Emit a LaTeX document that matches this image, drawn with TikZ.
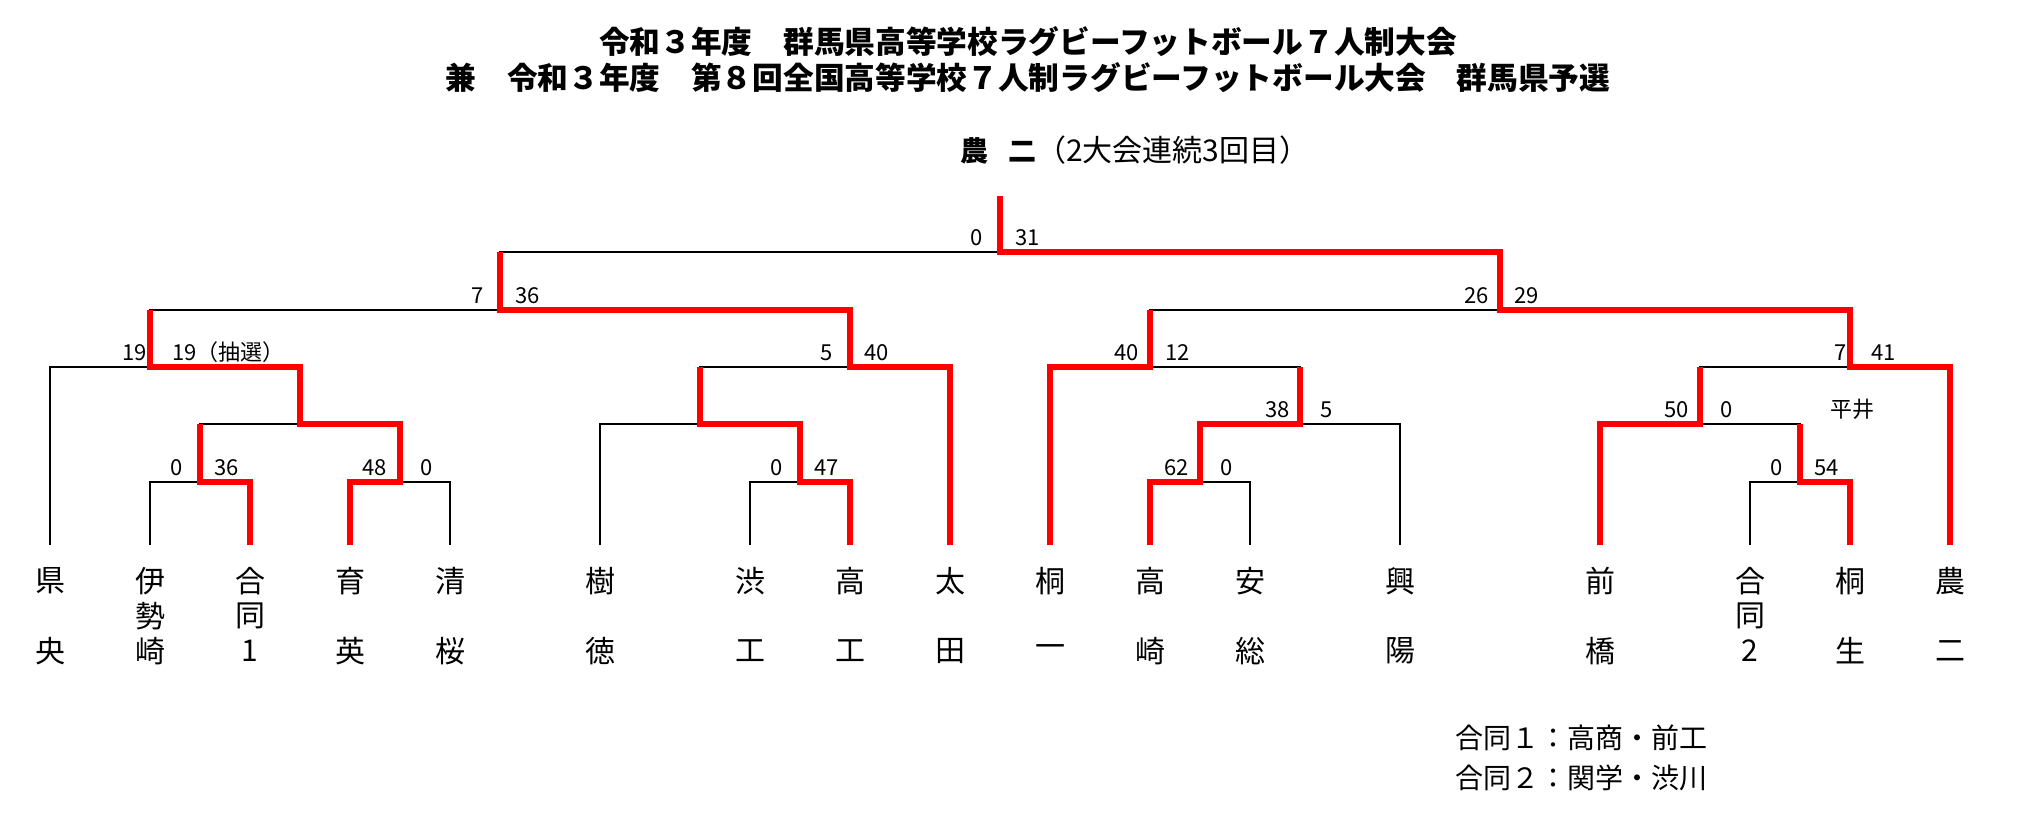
\documentclass[tikz,border=0pt]{standalone}
\usepackage{fontspec}
\setmainfont{Noto Sans CJK JP}
\begin{document}
\begin{tikzpicture}[x=1pt,y=-1pt,
  blk/.style={draw=black,line width=2.8pt,line join=miter},
  win/.style={draw=red,line width=6pt,line join=miter},
  nm/.style={inner sep=0pt,font=\fontsize{30}{30}\selectfont},
  sc/.style={inner sep=0pt,anchor=base west,font=\fontsize{22}{22}\selectfont},
  ttl/.style={inner sep=0pt,font=\fontsize{30.7}{30.7}\selectfont\bfseries},
  note/.style={inner sep=0pt,anchor=west,font=\fontsize{28}{28}\selectfont}]
\useasboundingbox (0,0) rectangle (2017,821);

% titles
\node[ttl] (title1) at (1028,42) {令和３年度　群馬県高等学校ラグビーフットボール７人制大会};
\node[ttl] (title2) at (1028,78) {兼　令和３年度　第８回全国高等学校７人制ラグビーフットボール大会　群馬県予選};
\node[inner sep=0pt,anchor=west] (champ) at (960,150)
  {{\fontsize{28}{28}\selectfont\bfseries 農\hspace{20pt}二}{\fontsize{30}{30}\selectfont （2大会連続3回目）}};

% leaves (top ends of leaf lines)
\foreach \x [count=\i] in {50,150,250,350,450,600,750,850,950,1050,1150,1250,1400,1600,1750,1850,1950}
  \coordinate (L\i) at (\x,545);

% junctions
\coordinate (top) at (1000,196);
\coordinate (J1) at (1000,252);
\coordinate (J2) at (500,310);
\coordinate (J3) at (150,367);
\coordinate (J4) at (200,482);
\coordinate (J5) at (400,482);
\coordinate (J6) at (300,424);
\coordinate (J7) at (850,367);
\coordinate (J8) at (700,424);
\coordinate (J9) at (800,482);
\coordinate (J10) at (1500,310);
\coordinate (J11) at (1150,367);
\coordinate (J12) at (1300,424);
\coordinate (J13) at (1200,482);
\coordinate (J14) at (1850,367);
\coordinate (J15) at (1700,424);
\coordinate (J16) at (1800,482);

% bracket (black)
\draw[blk] (L2) |- (J4) -| (L3);
\draw[blk] (L4) |- (J5) -| (L5);
\draw[blk] (J4) |- (J6) -| (J5);
\draw[blk] (L1) |- (J3) -| (J6);
\draw[blk] (L7) |- (J9) -| (L8);
\draw[blk] (L6) |- (J8) -| (J9);
\draw[blk] (J8) |- (J7) -| (L9);
\draw[blk] (J3) |- (J2) -| (J7);
\draw[blk] (L11) |- (J13) -| (L12);
\draw[blk] (J13) |- (J12) -| (L13);
\draw[blk] (L10) |- (J11) -| (J12);
\draw[blk] (L15) |- (J16) -| (L16);
\draw[blk] (L14) |- (J15) -| (J16);
\draw[blk] (J15) |- (J14) -| (L17);
\draw[blk] (J11) |- (J10) -| (J14);
\draw[blk] (J2) |- (J1) -| (J10);

% winners (red)
\draw[win] (L3) |- (J4) -- (J4 |- J6);
\draw[win] (L4) |- (J5) |- (J6) |- (J3) -- (J3 |- J2);
\draw[win] (L8) |- (J9) |- (J8) -- (J8 |- J7);
\draw[win] (L9) |- (J7) |- (J2) -- (J2 |- J1);
\draw[win] (L10) |- (J11) -- (J11 |- J10);
\draw[win] (L11) |- (J13) |- (J12) -- (J12 |- J11);
\draw[win] (L14) |- (J15) -- (J15 |- J14);
\draw[win] (L16) |- (J16) -- (J16 |- J15);
\draw[win] (L17) |- (J14) |- (J10) |- (J1) -- (top);

% scores
\node[sc] (s1a) at (970,245) {0};
\node[sc] (s1b) at (1015,245) {31};
\node[sc] (s2a) at (471,303) {7};
\node[sc] (s2b) at (515,303) {36};
\node[sc] (s3a) at (122,360) {19};
\node[sc] (s3b) at (172,360) {19（抽選）};
\node[sc] (s4a) at (170,475) {0};
\node[sc] (s4b) at (214,475) {36};
\node[sc] (s5a) at (362,475) {48};
\node[sc] (s5b) at (420,475) {0};
\node[sc] (s7a) at (820,360) {5};
\node[sc] (s7b) at (864,360) {40};
\node[sc] (s9a) at (770,475) {0};
\node[sc] (s9b) at (814,475) {47};
\node[sc] (s10a) at (1464,303) {26};
\node[sc] (s10b) at (1514,303) {29};
\node[sc] (s11a) at (1114,360) {40};
\node[sc] (s11b) at (1165,360) {12};
\node[sc] (s12a) at (1265,417) {38};
\node[sc] (s12b) at (1320,417) {5};
\node[sc] (s13a) at (1164,475) {62};
\node[sc] (s13b) at (1220,475) {0};
\node[sc] (s14a) at (1834,360) {7};
\node[sc] (s14b) at (1871,360) {41};
\node[sc] (s15a) at (1664,417) {50};
\node[sc] (s15b) at (1720,417) {0};
\node[sc] (s16a) at (1770,475) {0};
\node[sc] (s16b) at (1814,475) {54};
\node[inner sep=0pt,font=\fontsize{22}{22}\selectfont] (hirai) at (1852,409) {平井};

% team names
\foreach \x/\a/\c [count=\i] in {50/県/央,350/育/英,450/清/桜,600/樹/徳,750/渋/工,850/高/工,950/太/田,1050/桐/一,1150/高/崎,1250/安/総,1400/興/陽,1600/前/橋,1850/桐/生,1950/農/二}{
  \node[nm] (na\i) at (\x,581) {\a};
  \node[nm] (nc\i) at (\x,651) {\c};
}
\foreach \x/\a/\b/\c [count=\i] in {150/伊/勢/崎,250/合/同/1,1750/合/同/2}{
  \node[nm] (ma\i) at (\x,581) {\a};
  \node[nm] (mb\i) at (\x,616) {\b};
  \node[nm] (mc\i) at (\x,651) {\c};
}

% note
\node[note] (note1) at (1455,738) {合同１：高商・前工};
\node[note] (note2) at (1455,778) {合同２：関学・渋川};
\end{tikzpicture}
\end{document}
